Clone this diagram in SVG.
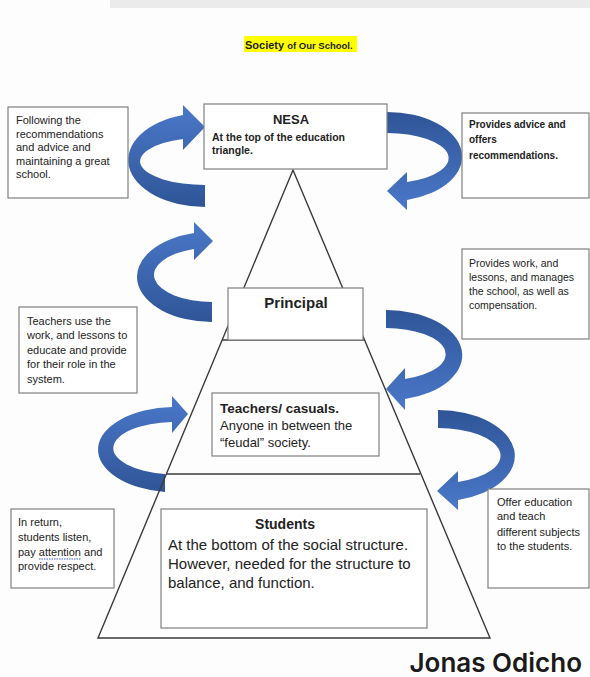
<svg xmlns="http://www.w3.org/2000/svg" width="590" height="677" viewBox="0 0 590 677">
<defs>
<linearGradient id="gUp" x1="0" y1="0" x2="0" y2="1"><stop offset="0" stop-color="#4a78c9"/><stop offset="1" stop-color="#2f5597"/></linearGradient>
<linearGradient id="gDown" x1="0" y1="0" x2="0" y2="1"><stop offset="0" stop-color="#2f5597"/><stop offset="1" stop-color="#4a78c9"/></linearGradient>
<style>
.box{fill:#fff;stroke:#808080;stroke-width:1.2}
.ln{fill:none;stroke:#3a3a3a;stroke-width:1.4}
text{font-family:"Liberation Sans",Arial,sans-serif;fill:#222}
.s{font-size:11px}
.sb{font-size:10px;font-weight:bold}
.b{font-weight:bold}
.arL{fill:url(#gUp)}
.arR{fill:url(#gDown)}
</style>
</defs>
<rect x="0" y="0" width="590" height="677" fill="#fdfdfd"/>
<rect x="110" y="0" width="480" height="8" fill="#ebebeb"/>

<g id="title">
<rect x="244" y="36" width="113" height="16" fill="#ffff00"/>
<text x="245" y="48.5" class="b" style="font-size:11px">Society <tspan style="font-size:9.5px">of Our School.</tspan></text>
</g>

<g id="connectors">
<path class="arL" d="M205,207 A77,47 0 0 1 183,115 L183,105 L205,127 L183,150 L183,139 A65,23.7 0 0 0 205,185 Z"/>
<path class="arR" d="M387,112 A75,44.8 0 0 1 407,200 L407,210 L387,191 L407,172 L407,182 A62,25.2 0 0 0 387,133 Z"/>
<path class="arL" d="M212,322 A75,45.16 0 0 1 194,233 L194,222 L213,241 L194,260 L194,249 A58,27.17 0 0 0 212,302 Z"/>
<path class="arR" d="M386,310 A76,45.2 0 0 1 405,399 L405,410 L386,389 L405,368 L405,379 A60,26.2 0 0 0 386,328 Z"/>
<path class="arL" d="M165,492 A77,42.7 0 0 1 172,407 L172,396 L188,414 L172,433 L172,422 A62,26.2 0 0 0 165,474 Z"/>
<path class="arR" d="M438,410 A77,45.8 0 0 1 458,500 L458,510 L437,491 L458,471 L458,482 A62,27.7 0 0 0 438,428 Z"/>
</g>

<g id="pyramid">
<polygon class="ln" points="293,170 98,638 490,638"/>
<line class="ln" x1="222" y1="340" x2="365" y2="340"/>
<line class="ln" x1="166" y1="474" x2="420" y2="474"/>
</g>

<g id="nesa">
<rect class="box" x="204" y="104" width="183" height="65"/>
<text x="291" y="124" class="b" style="font-size:13px" text-anchor="middle">NESA</text>
<text x="212" y="141" class="b" style="font-size:10.5px">At the top of the education</text>
<text x="212" y="154" class="b" style="font-size:10.5px">triangle.</text>
</g>

<g id="principal">
<rect class="box" x="228" y="288" width="135" height="52"/>
<text x="296" y="308" class="b" style="font-size:15px" text-anchor="middle">Principal</text>
</g>

<g id="teachers">
<rect class="box" x="212" y="393" width="167" height="63"/>
<text x="220" y="413" class="b" style="font-size:13.5px">Teachers/ casuals.</text>
<text x="220" y="430" style="font-size:13px">Anyone in between the</text>
<text x="220" y="447" style="font-size:13px">“feudal” society.</text>
</g>

<g id="students">
<rect class="box" x="161" y="509" width="266" height="119"/>
<text x="285" y="529" class="b" style="font-size:14px" text-anchor="middle">Students</text>
<text x="168" y="550" style="font-size:15px">At the bottom of the social structure.</text>
<text x="168" y="569" style="font-size:15px">However, needed for the structure to</text>
<text x="168" y="588" style="font-size:15px">balance, and function.</text>
</g>

<g id="note-following">
<rect class="box" x="8" y="107" width="120" height="91"/>
<text class="s" x="16" y="124">Following the</text>
<text class="s" x="16" y="137.5">recommendations</text>
<text class="s" x="16" y="151">and advice and</text>
<text class="s" x="16" y="164.5">maintaining a great</text>
<text class="s" x="16" y="178">school.</text>
</g>

<g id="note-advice">
<rect class="box" x="462" y="113" width="127" height="85"/>
<text class="sb" x="469" y="128">Provides advice and</text>
<text class="sb" x="469" y="142.5">offers</text>
<text class="sb" x="469" y="158.5">recommendations.</text>
</g>

<g id="note-teachers-use">
<rect class="box" x="19" y="307" width="118" height="86"/>
<text class="s" x="27" y="325">Teachers use the</text>
<text class="s" x="27" y="339">work, and lessons to</text>
<text class="s" x="27" y="354">educate and provide</text>
<text class="s" x="27" y="368">for their role in the</text>
<text class="s" x="27" y="383">system.</text>
</g>

<g id="note-provides-work">
<rect class="box" x="462" y="249" width="127" height="90"/>
<text x="469" y="267" style="font-size:10.5px">Provides work, and</text>
<text x="469" y="280.5" style="font-size:10.5px">lessons, and manages</text>
<text x="469" y="294.5" style="font-size:10.5px">the school, as well as</text>
<text x="469" y="309" style="font-size:10.5px">compensation.</text>
</g>

<g id="note-in-return">
<rect class="box" x="11" y="509" width="103" height="79"/>
<text class="s" x="18" y="526">In return,</text>
<text class="s" x="18" y="541">students listen,</text>
<text class="s" x="18" y="556">pay attention and</text>
<text class="s" x="18" y="570">provide respect.</text>
<line x1="39" y1="559" x2="81" y2="559" stroke="#3b5fd0" stroke-width="1" stroke-dasharray="1.5,1"/>
</g>

<g id="note-offer">
<rect class="box" x="488" y="489" width="101" height="99"/>
<text class="s" x="497" y="506">Offer education</text>
<text class="s" x="497" y="520">and teach</text>
<text class="s" x="497" y="536">different subjects</text>
<text class="s" x="497" y="550">to the students.</text>
</g>

<g id="author">
<text x="582" y="672" text-anchor="end" style="font-family:Inter,'Liberation Sans',sans-serif;font-size:26px;font-weight:600;fill:#1a1a1a">Jonas Odicho</text>
</g>
</svg>
